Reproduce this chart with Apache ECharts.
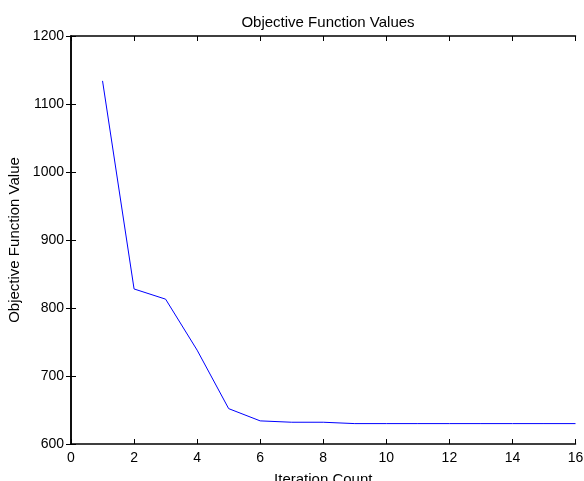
<!DOCTYPE html>
<html>
<head>
<meta charset="utf-8">
<script src="https://cdn.jsdelivr.net/npm/echarts@6/dist/echarts.min.js"></script>
<style>html,body{margin:0;padding:0;background:#fff;}#c{width:584px;height:481px;}</style>
</head>
<body>
<div id="c"></div>
<script>
var iterations = [1,2,3,4,5,6,7,8,9,10,11,12,13,14,15,16];
var objectiveValues = [1134,828,813,738,652,634,632,632,630,630,630,630,630,630,630,630];
var xTicks = [0,2,4,6,8,10,12,14,16];
var yTicks = [600,700,800,900,1000,1100,1200];

var chart = echarts.init(document.getElementById('c'), null, {renderer:'canvas'});
var font = 'Liberation Sans, Arial, sans-serif';
var axisLineStyle = {show:true, lineStyle:{color:'#000', width:1.5}};
var tickStyle = {show:true, inside:true, length:5, lineStyle:{color:'#000', width:1}};
var plain = function(v){ return String(v); };
chart.setOption({
  animation:false,
  backgroundColor:'#fff',
  title:{text:'Objective Function Values', left:323, textAlign:'center', top:10,
    textStyle:{fontFamily:font, fontSize:15, fontWeight:'normal', color:'#000'}},
  grid:{left:71, right:8.5, top:36, bottom:37, containLabel:false, outerBoundsMode:'none'},
  xAxis:[{
    type:'value', min:xTicks[0], max:xTicks[xTicks.length-1], interval:2,
    name:'Iteration Count', nameLocation:'middle', nameGap:28,
    nameTextStyle:{fontFamily:font, fontSize:15, color:'#000'},
    axisLine:axisLineStyle, axisTick:tickStyle,
    axisLabel:{fontFamily:font, fontSize:14, color:'#000', margin:7, formatter:plain},
    splitLine:{show:false}
  },{
    type:'value', position:'top', min:xTicks[0], max:xTicks[xTicks.length-1], interval:2,
    axisLine:axisLineStyle, axisTick:tickStyle, axisLabel:{show:false}, splitLine:{show:false}
  }],
  yAxis:[{
    type:'value', min:yTicks[0], max:yTicks[yTicks.length-1], interval:100,
    name:'Objective Function Value', nameLocation:'middle', nameGap:37,
    nameTextStyle:{fontFamily:font, fontSize:15, color:'#000'},
    axisLine:axisLineStyle, axisTick:tickStyle,
    axisLabel:{fontFamily:font, fontSize:14, color:'#000', margin:7, formatter:plain},
    splitLine:{show:false}
  },{
    type:'value', position:'right', min:yTicks[0], max:yTicks[yTicks.length-1], interval:100,
    axisLine:axisLineStyle, axisTick:tickStyle, axisLabel:{show:false}, splitLine:{show:false}
  }],
  series:[{
    type:'line', xAxisIndex:0, yAxisIndex:0,
    data: iterations.map(function(x,i){return [x, objectiveValues[i]];}),
    showSymbol:false, symbol:'none',
    lineStyle:{color:'#0000ff', width:1}
  }]
});
</script>
</body>
</html>
